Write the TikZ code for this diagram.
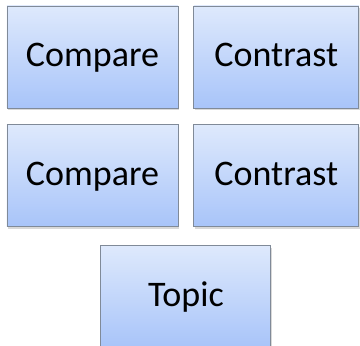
\documentclass[tikz,border=0pt]{standalone}
\usepackage{fontspec}
\setmainfont{Carlito}
\usetikzlibrary{positioning,calc,shadows}

\definecolor{boxtop}{RGB}{222,233,252}
\definecolor{boxbottom}{RGB}{168,196,249}
\definecolor{boxline}{RGB}{128,138,152}

\begin{document}
\begin{tikzpicture}[
  node distance=16pt and 15pt,
  box/.style={draw=boxline, line width=0.8pt, top color=boxtop, bottom color=boxbottom,
    minimum width=171pt, minimum height=102pt, inner sep=0pt,
    text height=26pt, text depth=6pt,
    font=\fontsize{36}{43}\selectfont,
    drop shadow={shadow xshift=1.2pt, shadow yshift=-2.2pt, opacity=0.3}}
]
\useasboundingbox (0,0) rectangle (360pt,346pt);

\node[box] (cmp1) at (92.5pt,289pt) {Compare};
\node[box, minimum width=165pt, right=of cmp1] (con1) {Contrast};
\node[box, below=of cmp1] (cmp2) {Compare};
\node[box, minimum width=165pt, right=of cmp2] (con2) {Contrast};

\coordinate (gap) at ($(cmp2.south east)!0.5!(con2.south west)$);
\node[box, minimum width=170pt, below=18pt of gap] (topic) {Topic};

\end{tikzpicture}
\end{document}
